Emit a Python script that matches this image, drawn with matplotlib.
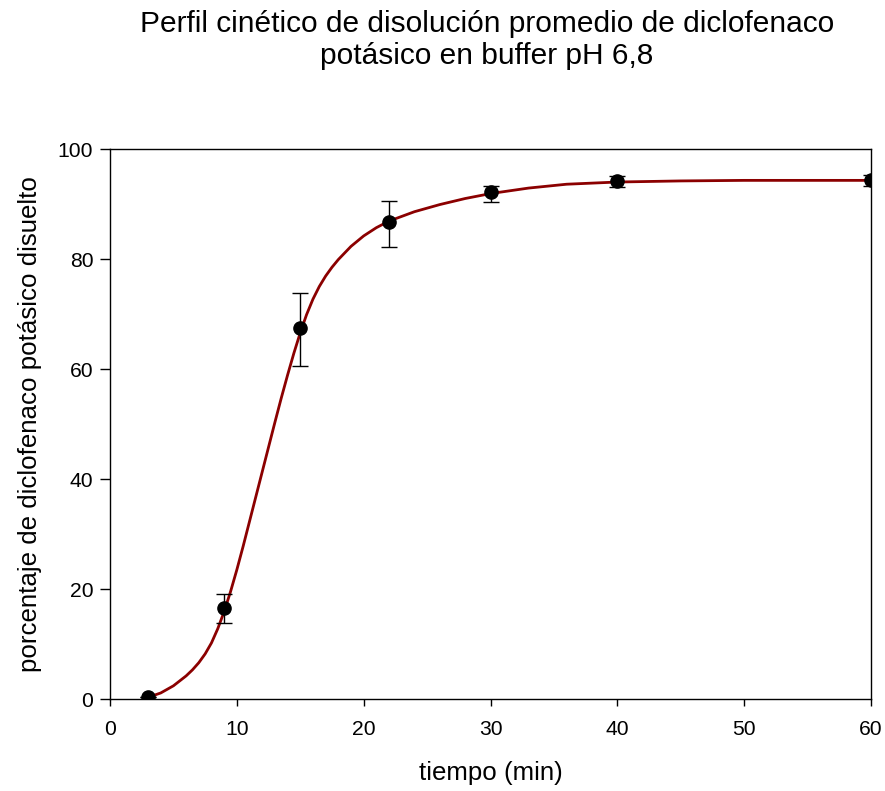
import matplotlib
matplotlib.use("Agg")
import matplotlib.pyplot as plt

plt.rcParams["font.family"] = ["Liberation Sans", "DejaVu Sans"]

# measured points (mean +/- sd)
tiempo = [3, 9, 15, 22, 30, 40, 60]
disuelto = [0.4, 16.6, 67.4, 86.7, 92.1, 94.1, 94.4]
err_sup = [0.4, 19.1, 73.8, 90.6, 93.3, 95.1, 95.3]
err_inf = [0.4, 13.8, 60.5, 82.2, 90.4, 93.1, 93.3]

# fitted curve
curva_t = [3, 4, 5, 6, 6.5, 7, 7.5, 8, 8.5, 9, 9.5, 10, 10.5, 11, 11.5, 12,
           12.5, 13, 13.5, 14, 14.5, 15, 15.5, 16, 16.5, 17, 17.5, 18, 19, 20,
           21, 22, 24, 26, 28, 30, 33, 36, 40, 45, 50, 60]
curva_v = [0.3, 1.1, 2.4, 4.2, 5.3, 6.6, 8.2, 10.2, 12.8, 15.9, 19.5, 23.5,
           27.8, 32.3, 36.8, 41.3, 45.8, 50.3, 54.7, 58.9, 62.9, 66.6, 69.9,
           72.7, 75.0, 76.9, 78.5, 79.9, 82.3, 84.2, 85.7, 86.9, 88.6, 89.9,
           91.0, 91.9, 92.9, 93.6, 94.0, 94.2, 94.3, 94.3]

fig = plt.figure(figsize=(8.85, 7.91), dpi=100)
ax = fig.add_axes([0.1243, 0.1163, 0.8599, 0.6953])

ax.plot(curva_t, curva_v, color="#8B0000", lw=2, zorder=2)
yerr = [[d - lo for d, lo in zip(disuelto, err_inf)],
        [hi - d for d, hi in zip(disuelto, err_sup)]]
ax.errorbar(tiempo, disuelto, yerr=yerr, fmt="o", color="black", ms=9.5,
            ecolor="black", elinewidth=1, capsize=5.8, capthick=1, zorder=3)

ax.set_xlim(0, 60)
ax.set_ylim(0, 100)
ax.set_xticks(range(0, 61, 10))
ax.set_yticks(range(0, 101, 20))
ax.tick_params(labelsize=15.2, direction="out", length=7, width=1, pad=5)
ax.tick_params(axis="x", length=5, pad=10)
for s in ax.spines.values():
    s.set_linewidth(1)

fig.text(0.034, 0.5 * (0.1163 + 0.8116), "porcentaje de diclofenaco potásico disuelto",
         rotation=90, ha="center", va="center", fontsize=18.6)
fig.text(0.5543, 1 - 773 / 791, "tiempo (min)", ha="center", va="center", fontsize=18.6)
fig.text(0.5503, 1 - 40 / 791,
         "Perfil cinético de disolución promedio de diclofenaco\npotásico en buffer pH 6,8",
         ha="center", va="center", fontsize=21.5, linespacing=1.22)

fig.savefig("out.png", dpi=100)
